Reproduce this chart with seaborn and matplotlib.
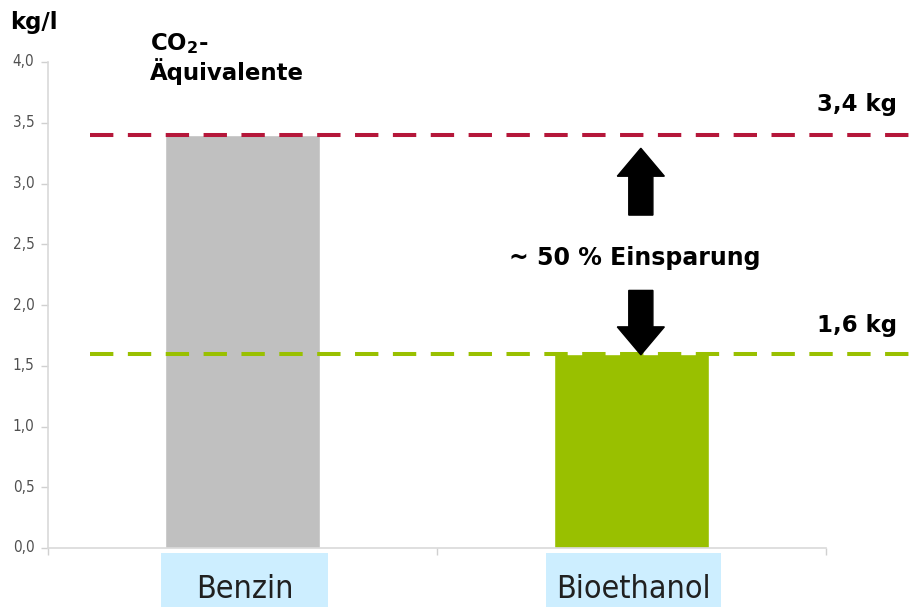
import matplotlib
matplotlib.use('Agg')

import matplotlib.pyplot as plt
import matplotlib.transforms as mtransforms
from matplotlib import font_manager
from matplotlib.patches import Rectangle, FancyArrow
import seaborn as sns

# data
categories = ['Benzin', 'Bioethanol']
values = [3.4, 1.6]
bar_colors = ['#c0c0c0', '#99c000']
line_colors = ['#b5173a', '#99c000']
line_labels = ['3,4 kg', '1,6 kg']
yticks = [0.0, 0.5, 1.0, 1.5, 2.0, 2.5, 3.0, 3.5, 4.0]

sns.set_style('white')
plt.rcParams['font.family'] = ['DejaVu Sans']
plt.rcParams['mathtext.fontset'] = 'dejavusans'
plt.rcParams['mathtext.default'] = 'bf'

# pick a narrow upright font for the axis labels if there is one
narrow = None
for f in font_manager.fontManager.ttflist:
    is_narrow = ('narrow' in f.name.lower() or 'condensed' in f.name.lower()
                 or (isinstance(f.stretch, str) and 'condensed' in f.stretch)
                 or (isinstance(f.stretch, int) and f.stretch < 500))
    if is_narrow and f.style == 'normal' and f.weight in ('normal', 400, 'regular', 'book'):
        narrow = f.fname
        break
if narrow:
    narrow_fp = dict(fontproperties=font_manager.FontProperties(fname=narrow))
    tick_size, cat_size = 11, 23
else:
    narrow_fp = dict(family='Liberation Sans')
    tick_size, cat_size = 9.5, 20

W, H = 910, 607
fig = plt.figure(figsize=(W / 100, H / 100), dpi=100)
ax = fig.add_axes([48 / W, 1 - 548 / H, (826 - 48) / W, (548 - 62) / H])

sns.barplot(x=categories, y=values, hue=categories, palette=bar_colors,
            width=0.4, legend=False, ax=ax, saturation=1)

ax.set_xlim(-0.5, 1.5)
ax.set_ylim(0, 4.0)
ax.set_xlabel('')
ax.set_ylabel('')

# y axis
ax.set_yticks(yticks)
ax.set_yticklabels([])
for t in yticks:
    ax.text(-0.535, t, f'{t:.1f}'.replace('.', ','), ha='right', va='center',
            fontsize=tick_size, color='#505050', clip_on=False, **narrow_fp)
ax.tick_params(axis='y', left=True, length=5, width=1, color='#d0d0d0', pad=4)

# x axis: ticks at the category boundaries only
ax.set_xticks([0, 1])
ax.set_xticklabels([])
ax.tick_params(axis='x', bottom=True, length=0)
ax.set_xticks([-0.5, 0.5, 1.5], minor=True)
ax.tick_params(axis='x', which='minor', bottom=True, length=5, width=1, color='#d0d0d0')

for side in ['top', 'right']:
    ax.spines[side].set_visible(False)
for side in ['left', 'bottom']:
    ax.spines[side].set_color('#d9d9d9')
    ax.spines[side].set_linewidth(1.2)

# dashed reference lines, running past the axes to the right edge
for val, col in zip(values, line_colors):
    ax.plot([-0.392, 1.72], [val, val], color=col, lw=2.9,
            dashes=(5.8, 3.6), clip_on=False, zorder=3)

# arrows between the lines
ax.add_patch(FancyArrow(1.024, 2.74, 0, 3.29 - 2.74, width=0.062,
                        head_width=0.121, head_length=0.23,
                        length_includes_head=True, color='black', zorder=4))
ax.add_patch(FancyArrow(1.024, 2.12, 0, 1.59 - 2.12, width=0.062,
                        head_width=0.121, head_length=0.23,
                        length_includes_head=True, color='black', zorder=4))

# category label boxes below the axis
trans = mtransforms.blended_transform_factory(ax.transData, fig.transFigure)
box_w = [0.43, 0.45]
for i, (cat, bw) in enumerate(zip(categories, box_w)):
    ax.add_patch(Rectangle((i - bw / 2 + 0.005, 0), bw, 1 - 553 / H,
                           transform=trans, facecolor='#cdeeff',
                           edgecolor='none', clip_on=False))
    ax.text(i + 0.005, 1 - 598 / H, cat, transform=trans, ha='center',
            va='baseline', fontsize=cat_size, color='#202020', **narrow_fp)

# texts
bold = dict(fontsize=16.5, fontweight='bold', color='black')
fig.text(10 / W, 1 - 29 / H, 'kg/l', va='baseline', **bold)
fig.text(150 / W, 1 - 50 / H, 'CO$_2$-', va='baseline', **bold)
fig.text(150 / W, 1 - 80 / H, 'Äquivalente', va='baseline', **bold)
fig.text(897 / W, 1 - 111 / H, line_labels[0], ha='right', va='baseline', **bold)
fig.text(897 / W, 1 - 332 / H, line_labels[1], ha='right', va='baseline', **bold)
fig.text(635 / W, 1 - 265 / H, '~ 50 % Einsparung', ha='center', va='baseline',
         fontsize=17, fontweight='bold', color='black')

fig.savefig('out.png', dpi=100)
